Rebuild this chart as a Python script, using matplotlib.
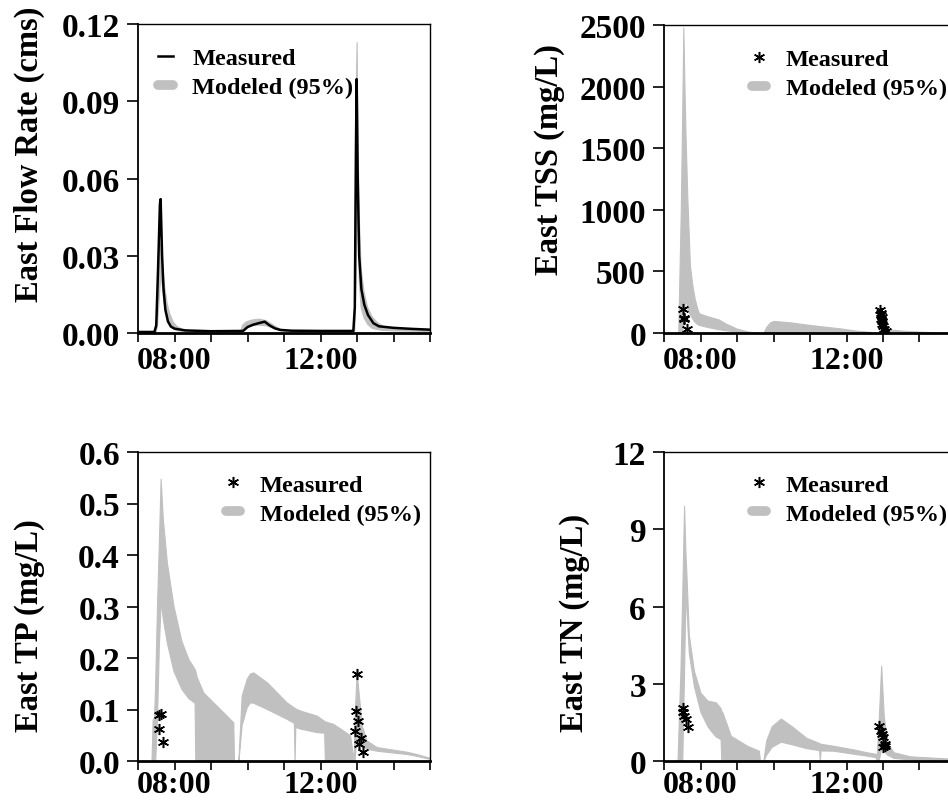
import numpy as np
import matplotlib
matplotlib.use('Agg')
from matplotlib import pyplot as plt
from matplotlib.lines import Line2D

# time in decimal hours
flow_t = [7.0, 7.45, 7.5, 7.55, 7.6, 7.62, 7.66, 7.7, 7.75, 7.82, 7.9, 8.0, 8.3, 9.0,
          9.88, 10.0, 10.15, 10.3, 10.47, 10.6, 10.75, 10.9, 11.2, 12.0, 12.9, 12.94,
          12.97, 12.99, 13.02, 13.06, 13.12, 13.2, 13.3, 13.45, 13.6, 14.0, 14.5, 15.0]
flow_meas = [0.0004, 0.0004, 0.003, 0.025, 0.050, 0.052, 0.030, 0.017, 0.009, 0.0045,
             0.0025, 0.0017, 0.0010, 0.0007, 0.0008, 0.0023, 0.0032, 0.0038, 0.0044,
             0.0030, 0.0018, 0.0012, 0.0009, 0.0008, 0.0008, 0.010, 0.070, 0.0986,
             0.060, 0.030, 0.017, 0.011, 0.007, 0.0038, 0.0026, 0.0020, 0.0016, 0.0013]

flow_mod_t = [7.0, 7.48, 7.52, 7.56, 7.6, 7.64, 7.7, 7.78, 7.86, 7.95, 8.05, 8.2, 8.5,
              9.8, 9.85, 9.95, 10.1, 10.3, 10.5, 10.7, 10.9, 11.2, 12.92, 12.96, 12.99,
              13.0, 13.02, 13.05, 13.1, 13.18, 13.28, 13.4, 13.55, 13.7, 14.0, 15.0]
flow_mod_lo = [0, 0, 0.003, 0.012, 0.02, 0.02, 0.012, 0.006, 0.003, 0.0018, 0.0012,
               0.0008, 0.0005, 0.0004, 0.0015, 0.0025, 0.003, 0.0032, 0.003, 0.002,
               0.001, 0.0006, 0.0004, 0.02, 0.05, 0.06, 0.04, 0.02, 0.01, 0.006,
               0.0035, 0.002, 0.0015, 0.0012, 0.001, 0.0008]
flow_mod_hi = [0, 0.0005, 0.015, 0.03, 0.035, 0.03, 0.02, 0.012, 0.0075, 0.0045,
               0.0028, 0.0016, 0.0009, 0.0007, 0.0032, 0.0045, 0.0052, 0.0056, 0.005,
               0.0032, 0.0015, 0.0009, 0.0008, 0.09, 0.113, 0.095, 0.07, 0.045, 0.025,
               0.016, 0.010, 0.0065, 0.0042, 0.0028, 0.0018, 0.0012]

tss_t = [7.00, 7.39, 7.46, 7.50, 7.53, 7.56, 7.59, 7.64, 7.71, 7.78, 7.84, 7.91, 7.96,
         8.20, 8.50, 8.70, 8.82, 9.00, 9.30, 9.60, 9.72, 9.80, 9.90, 10.00, 10.45, 11.00,
         11.82, 12.28, 12.64, 12.72, 12.87, 12.95, 13.05, 13.20, 13.55, 14.10, 14.60, 15.00]
tss_lo = [0, 0, 0, 0, 120, 220, 276, 200, 150, 115, 90, 73, 65, 48, 30, 22, 18, 12, 5, 0,
          0, 0, 0, 0, 0, 0, 0, 0, 0, 0, 0, 0, 0, 0, 0, 0, 0, 0]
tss_hi = [0, 0, 1000, 1800, 2480, 2000, 1600, 1090, 550, 380, 280, 200, 160, 135, 110, 75,
          60, 35, 12, 0, 0, 50, 85, 98, 87, 65, 38, 19, 10, 0, 0, 60, 40, 28, 19, 10, 5, 2]
tss_obs_t = [7.53, 7.55, 7.56, 7.64, 12.93, 12.95, 12.94, 12.96, 12.95, 12.97, 12.98,
             13.0, 13.04, 13.08]
tss_obs = [195, 125, 112, 35, 185, 165, 150, 130, 110, 95, 75, 55, 35, 15]

tp_t = [7.00, 7.37, 7.40, 7.44, 7.47, 7.52, 7.57, 7.62, 7.68, 7.79, 7.97, 8.19, 8.38,
        8.55, 8.57, 8.61, 8.79, 9.16, 9.43, 9.61, 9.63, 9.75, 9.84, 9.98, 10.07, 10.16,
        10.53, 11.07, 11.27, 11.29, 11.31, 11.44, 11.90, 12.10, 12.12, 12.35, 12.81,
        12.91, 12.93, 12.99, 13.13, 13.26, 13.54, 14.36, 14.63, 15.00]
tp_lo = [0, 0, 0, 0, 0, 0.08, 0.22, 0.31, 0.276, 0.23, 0.175, 0.14, 0.122, 0.113, 0,
         0, 0, 0, 0, 0, 0, 0, 0.07, 0.105, 0.114, 0.113, 0.101, 0.082, 0.074, 0, 0.066,
         0.063, 0.056, 0.055, 0, 0, 0, 0, 0, 0.05, 0.03, 0.024, 0.02, 0.0136, 0.01, 0.004]
tp_hi = [0, 0, 0.08, 0.085, 0.15, 0.30, 0.42, 0.548, 0.47, 0.386, 0.302, 0.233, 0.198,
         0.179, 0.175, 0.163, 0.133, 0.107, 0.088, 0.075, 0, 0, 0.127, 0.16, 0.17, 0.172,
         0.153, 0.114, 0.104, 0.103, 0.102, 0.098, 0.088, 0.078, 0.077, 0.072, 0.05, 0,
         0.08, 0.172, 0.069, 0.04, 0.027, 0.018, 0.0136, 0.006]
tp_obs_t = [7.585, 7.63, 7.585, 7.69, 13.00, 12.97, 13.02, 12.95, 13.10, 13.06, 13.16]
tp_obs = [0.090, 0.091, 0.063, 0.036, 0.168, 0.098, 0.078, 0.059, 0.044, 0.033, 0.017]

tn_t = [7.00, 7.37, 7.45, 7.50, 7.55, 7.59, 7.62, 7.68, 7.82, 8.00, 8.19, 8.28, 8.42,
        8.55, 8.57, 8.60, 8.83, 9.28, 9.60, 9.63, 9.72, 9.80, 9.95, 10.20, 10.50, 10.90,
        11.25, 11.27, 11.29, 11.64, 12.20, 12.55, 12.80, 12.82, 12.88, 12.95, 13.02,
        13.11, 13.29, 13.75, 14.75, 15.00]
tn_lo = [0, 0, 0, 0, 3.5, 6.7, 5.8, 4.2, 2.9, 1.9, 1.35, 1.18, 0.95, 0.85, 0, 0, 0, 0,
         0, 0, 0, 0.25, 0.55, 0.75, 0.65, 0.5, 0.42, 0, 0.41, 0.4, 0.28, 0.21, 0.15, 0,
         0, 0.5, 0.4, 0.25, 0.12, 0.06, 0.03, 0.02]
tn_hi = [0, 0, 3.5, 6.5, 9.91, 8.0, 7.07, 4.9, 3.5, 2.65, 2.35, 2.32, 2.28, 2.05, 1.95,
         1.89, 0.98, 0.59, 0.4, 0, 0, 0.8, 1.35, 1.65, 1.35, 0.9, 0.7, 0.68, 0.67, 0.59,
         0.45, 0.34, 0.28, 0, 1.5, 3.70, 1.76, 0.72, 0.34, 0.18, 0.1, 0.08]
tn_obs_t = [7.53, 7.52, 7.56, 7.60, 7.66, 12.90, 12.95, 12.96, 12.99, 13.05, 13.06, 13.00]
tn_obs = [2.05, 1.89, 1.73, 1.62, 1.31, 1.37, 1.18, 1.05, 0.92, 0.66, 0.57, 0.53]

hour_ticks = [7, 8, 9, 10, 11, 12, 13, 14, 15]
hour_labels = ['', '08:00', '', '', '', '12:00', '', '', '']

plt.rcParams['font.family'] = 'Liberation Serif'
plt.rcParams['font.weight'] = 'bold'

GRAY = '#c0c0c0'
W, H = 948.0, 803.0


def _axes(fig, left, top, right, bottom):
    """axes from pixel box"""
    return fig.add_axes([left / W, 1 - bottom / H, (right - left) / W, (bottom - top) / H])


def _style(ax, ymax, yticks, ylabel, label_x, label_y, xpad=3):
    ax.set_xlim(7, 15)
    ax.set_ylim(0, ymax)
    ax.set_xticks(hour_ticks)
    ax.set_xticklabels(hour_labels)
    ax.set_yticks(yticks)
    ax.tick_params(axis='x', direction='out', length=6.5, width=1.2, pad=xpad, labelsize=23)
    ax.tick_params(axis='y', direction='out', length=8, width=1.2, pad=5, labelsize=24)
    for s in ['top', 'right']:
        ax.spines[s].set_linewidth(1.0)
    ax.spines['left'].set_linewidth(1.3)
    ax.spines['bottom'].set_linewidth(2.0)
    ax.set_ylabel(ylabel, fontsize=23.5, fontweight='bold')
    ax.yaxis.set_label_coords(label_x, label_y)


def _legend(ax, first, x, y):
    mod = Line2D([], [], color=GRAY, lw=7, solid_capstyle='round')
    leg = ax.legend([first, mod], ['Measured', 'Modeled (95%)'], loc='upper left',
                    bbox_to_anchor=(x, y), frameon=False, handlelength=0.6,
                    handletextpad=0.8, labelspacing=0.3, borderpad=0, borderaxespad=0,
                    prop={'size': 17.5, 'weight': 'bold'})
    return leg


fig = plt.figure(figsize=(9.48, 8.03), dpi=100)

# flow rate
ax1 = _axes(fig, 138, 25, 430, 334)
ax1.fill_between(flow_mod_t, flow_mod_lo, flow_mod_hi, color=GRAY, lw=0.8, edgecolor=GRAY)
ax1.plot(flow_t, flow_meas, color='black', lw=1.8)
_style(ax1, 0.12, [0, 0.03, 0.06, 0.09, 0.12], 'East Flow Rate (cms)', -0.318, 0.58)
ax1.set_yticklabels(['0.00', '0.03', '0.06', '0.09', '0.12'])
_legend(ax1, Line2D([], [], color='black', lw=1.8), 0.07, 0.925)

marker = (6, 2, 0)
star = Line2D([], [], color='black', ls='none', marker=marker, ms=8, mew=1.1)

# TSS
ax2 = _axes(fig, 664, 26, 956, 334)
ax2.fill_between(tss_t, tss_lo, tss_hi, color=GRAY, lw=0.8, edgecolor=GRAY)
ax2.plot(tss_obs_t, tss_obs, ls='none', marker=marker, ms=8, mew=1.1, color='black')
_style(ax2, 2500, [0, 500, 1000, 1500, 2000, 2500], 'East TSS (mg/L)', -0.339, 0.565)
_legend(ax2, star, 0.30, 0.925)

# TP
ax3 = _axes(fig, 138, 453, 430, 762)
ax3.fill_between(tp_t, tp_lo, tp_hi, color=GRAY, lw=0.8, edgecolor=GRAY)
ax3.plot(tp_obs_t, tp_obs, ls='none', marker=marker, ms=8, mew=1.1, color='black')
_style(ax3, 0.6, [0, 0.1, 0.2, 0.3, 0.4, 0.5, 0.6], 'East TP (mg/L)', -0.318, 0.44, xpad=0)
ax3.set_yticklabels(['0.0', '0.1', '0.2', '0.3', '0.4', '0.5', '0.6'])
_legend(ax3, star, 0.30, 0.93)

# TN
ax4 = _axes(fig, 664, 453, 956, 762)
ax4.fill_between(tn_t, tn_lo, tn_hi, color=GRAY, lw=0.8, edgecolor=GRAY)
ax4.plot(tn_obs_t, tn_obs, ls='none', marker=marker, ms=8, mew=1.1, color='black')
_style(ax4, 12, [0, 3, 6, 9, 12], 'East TN (mg/L)', -0.253, 0.45, xpad=0)
_legend(ax4, star, 0.30, 0.93)

fig.savefig('out.png', dpi=100)
